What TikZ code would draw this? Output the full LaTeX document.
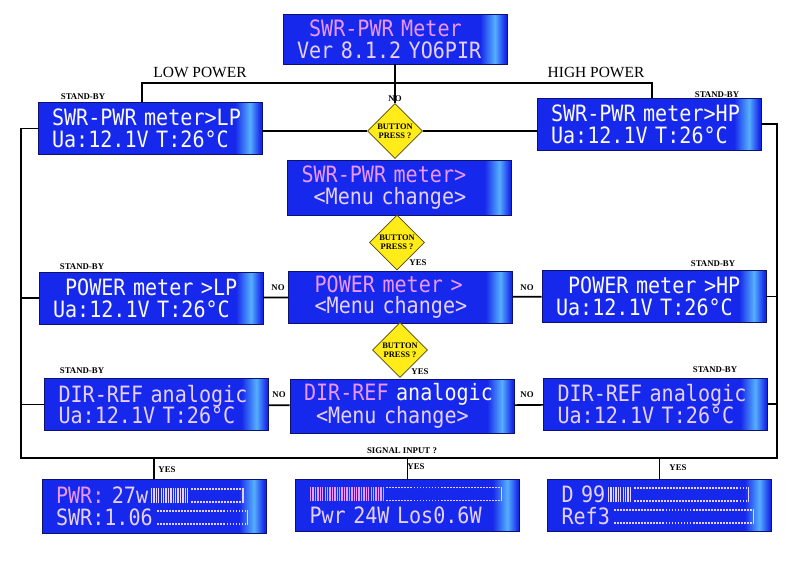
\documentclass[tikz,border=0pt]{standalone}
\usepackage{fontspec}
\setmainfont{Liberation Serif}
\newfontfamily\lcdfont{DejaVu Sans Mono}[FakeStretch=0.893]
\usetikzlibrary{shapes.geometric}
\definecolor{lcdblue}{RGB}{22,40,235}
\definecolor{lcdedge}{RGB}{12,18,110}
\definecolor{lcdcyan}{RGB}{85,175,255}
\definecolor{lcdwhite}{RGB}{250,250,255}
\definecolor{lcdpink}{RGB}{236,150,255}
\definecolor{lcdlav}{RGB}{230,208,255}
\definecolor{btnyellow}{RGB}{255,236,24}
\definecolor{btnedge}{RGB}{80,70,10}
\pgfdeclarehorizontalshading{lcdshade}{100bp}{color(0bp)=(lcdblue); color(69bp)=(lcdblue); color(72.3bp)=(lcdcyan); color(74.6bp)=(lcdblue); color(100bp)=(lcdblue)}
\newlength\lcdcw
\newcommand\lcdpk[1]{{\color{lcdpink}#1}}
\newcommand\lcdlv[1]{{\color{lcdlav}#1}}
\newcommand\lcdsp{\hphantom{0}}
\newcommand\lcdbars[1]{\settowidth\lcdcw{0}\leaders\hbox to .2\lcdcw{\hss\rule{.06em}{.66em}\hss}\hskip#1\lcdcw\relax}
\newcommand\lcdempty[1]{\settowidth\lcdcw{0}\rlap{\leaders\hbox to .25\lcdcw{\hss\rule{.08em}{.08em}\hss}\hskip#1\lcdcw\relax}\raisebox{.58em}{\leaders\hbox to .25\lcdcw{\hss\rule{.08em}{.08em}\hss}\hskip#1\lcdcw\relax}\rule{.06em}{.66em}}

\begin{document}
\begin{tikzpicture}[x=.05cm,y=.05cm]%
\useasboundingbox (0,0) rectangle (793,-569);
\begin{scope}[shape=rectangle,inner sep=0pt]%
\tikzstyle{every node}=[draw=lcdedge,line width=1.2pt,shade,shading=lcdshade,minimum width=11.2cm,minimum height=2.6cm,text width=9.8cm,align=left,text=lcdwhite,font=\lcdfont\fontsize{32}{31}\selectfont] %%
\node (top) at (395,-39) [minimum height=2.5cm] {\lcdpk{\lcdsp SWR-PWR Meter}\\\lcdlv{Ver 8.1.2 YO6PIR}}; %%
\node (lp1) at (150,-128.5) {SWR-PWR meter>LP\\Ua:12.1V T:26°C}; %%
\node (hp1) at (649,-124) {SWR-PWR meter>HP\\Ua:12.1V T:26°C}; %%
\node (m1) at (399.5,-187.5) [minimum height=2.75cm] {\lcdpk{SWR-PWR meter>}\\\lcdlv{\lcdsp<Menu change>}}; %%
\node (lp2) at (151,-298) {\lcdsp POWER meter >LP\\Ua:12.1V T:26°C}; %%
\node (m2) at (400.5,-297) {\lcdpk{\lcdsp POWER meter >}\\\lcdlv{\lcdsp<Menu change>}}; %%
\node (hp2) at (654,-296.5) {\lcdsp POWER meter >HP\\Ua:12.1V T:26°C}; %%
\node (lp3) at (156.5,-404.5) {\lcdlv{DIR-REF analogic}\\\lcdlv{Ua:12.1V T:26°C}}; %%
\node (m3) at (402,-406) [minimum height=2.7cm] {\lcdpk{DIR-REF} analogic\\\lcdlv{\lcdsp<Menu change>}}; %%
\node (hp3) at (655.5,-404) {\lcdlv{DIR-REF analogic}\\\lcdlv{Ua:12.1V T:26°C}}; %%
\node (b1) at (154,-506) [minimum height=2.7cm] {\lcdpk{PWR:} \lcdlv{27w\lcdbars{3.5}\lcdempty{4.3}}\\\lcdlv{SWR:1.06\lcdbars{.3}\lcdempty{7.5}}}; %%
\node (b2) at (407.5,-505) {\lcdpk{\lcdbars{6.3}}\lcdlv{\lcdempty{9.5}}\\\lcdlv{Pwr 24W Los0.6W}}; %%
\node (b3) at (659.5,-505) {\lcdlv{D 99\lcdbars{2.3}\lcdempty{9.5}}\\\lcdlv{Ref3\lcdbars{.3}\lcdempty{11.5}}}; %%
\end{scope}
\begin{scope}[shape=diamond]%
\tikzstyle{every node}=[draw=btnedge,line width=.8pt,fill=btnyellow,aspect=1,inner sep=0pt,minimum size=2.75cm,align=center,font=\bfseries\fontsize{12}{13}\selectfont] %%
\node (d1) at (395,-131) {BUTTON\\PRESS ?}; %%
\node (d2) at (397,-242.5) {BUTTON\\PRESS ?}; %%
\node (d3) at (400,-350) {BUTTON\\PRESS ?}; %%
\end{scope}
\begin{scope}[line width=2.4pt]%
\coordinate (jl) at (142,-83); %%
\coordinate (jr) at (652,-83); %%
\coordinate (bl) at (21,-458); %%
\coordinate (br) at (777,-458); %%
\draw (top) -- (d1); %%
\draw (jl |- lp1.north) -- (jl) -- (jr) -- (jr |- hp1.north); %%
\draw (d1.west) -- (d1.west -| lp1.east); %%
\draw (d1.east) -- (d1.east -| hp1.west); %%
\draw (lp1.west) -- (lp1.west -| bl) -- (bl) -- (br) -- (br |- hp1.east) -- (hp1.east); %%
\draw (lp2.west) -- (lp2.west -| bl); %%
\draw (lp3.west) -- (lp3.west -| bl); %%
\draw (hp2.east) -- (hp2.east -| br); %%
\draw (hp3.east) -- (hp3.east -| br); %%
\draw (lp2) -- (m2); %%
\draw (m2) -- (hp2); %%
\draw (lp3) -- (m3); %%
\draw (m3) -- (hp3); %%
\draw (b1.north) -- (b1.north |- bl); %%
\draw (b2.north) -- (b2.north |- bl); %%
\draw (b3.north) -- (b3.north |- bl); %%
\end{scope}
\node[font=\fontsize{22}{24}\selectfont] (lowp) at (200,-72) {LOW POWER};%
\node[font=\fontsize{22}{24}\selectfont] (highp) at (596,-72) {HIGH POWER};%
\begin{scope}%
\tikzstyle{every node}=[inner sep=0pt,font=\bfseries\fontsize{12.5}{14}\selectfont] %%
\node (sb1) at (83,-97) {STAND-BY}; %%
\node (sb2) at (717,-95) {STAND-BY}; %%
\node (sb3) at (82,-267) {STAND-BY}; %%
\node (sb4) at (713,-264) {STAND-BY}; %%
\node (sb5) at (82,-371) {STAND-BY}; %%
\node (sb6) at (715,-370) {STAND-BY}; %%
\node (no1) at (395,-99) {NO}; %%
\node (no2) at (278,-288) {NO}; %%
\node (no3) at (527,-288) {NO}; %%
\node (no4) at (279,-395) {NO}; %%
\node (no5) at (527,-395) {NO}; %%
\node (yes1) at (418,-263) {YES}; %%
\node (yes2) at (420,-372) {YES}; %%
\node (yes3) at (167,-470) {YES}; %%
\node (yes4) at (416,-467) {YES}; %%
\node (yes5) at (678,-468) {YES}; %%
\node (sig) at (402,-451) {SIGNAL INPUT ?}; %%
\end{scope}
\end{tikzpicture}
\end{document}
